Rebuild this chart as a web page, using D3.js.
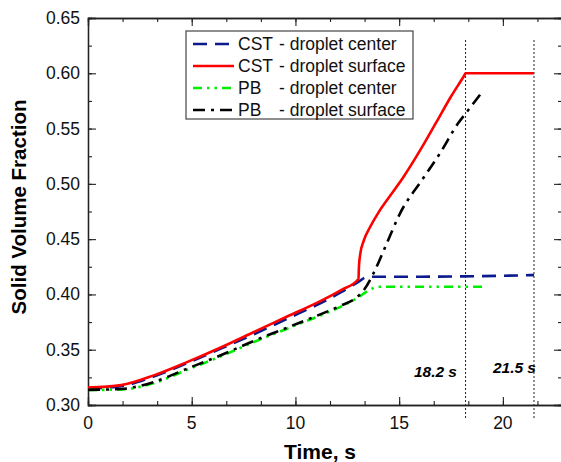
<!DOCTYPE html>
<html>
<head>
<meta charset="utf-8">
<script src="https://cdn.jsdelivr.net/npm/d3@7"></script>
<style>
  body { margin: 0; background: #fff; }
  svg { font-family: "Liberation Sans", Arial, sans-serif; }
</style>
</head>
<body>
<svg id="chart" width="561" height="462"></svg>
<script>
 // series data, [time s, solid volume fraction]
 let cstCenter = [[0,0.315],[1.6,0.317],[3.2,0.326],[4.8,0.338],[6.4,0.351],[8,0.364],[9.6,0.378],
                  [11.2,0.392],[12.2,0.402],[13.0,0.411],[13.5,0.416],[15,0.416],[18,0.4163],[21.5,0.4175]];
 let cstSurface = [[0,0.3157],[1.6,0.318],[3.2,0.327],[4.8,0.339],[6.4,0.352],[8,0.366],[9.6,0.380],
                   [11.2,0.394],[12.2,0.404],[13.04,0.414],[13.06,0.425],[13.12,0.436],[13.3,0.449],
                   [13.6,0.461],[14.0,0.474],[14.4,0.485],[15.2,0.506],[16.0,0.530],[16.8,0.556],
                   [17.5,0.579],[18.13,0.5978],[18.2,0.600],[21.5,0.600]];
 let pbCenter = [[0,0.3135],[1.6,0.314],[3.2,0.320],[4.8,0.332],[6.4,0.344],[8,0.357],[9.6,0.369],
                 [11.2,0.381],[12.2,0.389],[13.0,0.397],[13.4,0.402],[14.0,0.407],[16,0.407],[19,0.407]];
 let pbSurface = [[0,0.3137],[1.6,0.3145],[3.2,0.321],[4.8,0.333],[6.4,0.345],[8,0.358],[9.6,0.370],
                  [11.2,0.382],[12.2,0.390],[13.0,0.398],[13.3,0.404],[13.76,0.419],[14.4,0.446],
                  [15.05,0.4736],[16.1,0.5035],[16.98,0.528],[17.85,0.555],[18.26,0.565],[19.0,0.583]];

 let seriesModels = ["CST", "CST", "PB", "PB"];
 let seriesNames = ["- droplet center", "- droplet surface", "- droplet center", "- droplet surface"];
 let markerTimes = [18.2, 21.5];
 let markerLabels = ["18.2 s", "21.5 s"];
 let xTicks = [0, 5, 10, 15, 20];
 let yTicks = [0.30, 0.35, 0.40, 0.45, 0.50, 0.55, 0.60, 0.65];

 let svg = d3.select("svg#chart");
 let plotLeft = 88, plotRight = 562, plotTop = 18, plotBottom = 405;

 const xScale = d3.scaleLinear().domain([0, 22.85]).range([plotLeft, plotRight]);
 const yScale = d3.scaleLinear().domain([0.30, 0.65]).range([plotBottom, plotTop]);

 let styles = [
     {data: cstCenter, color: "#0b1a8c", dash: "14,8", width: 2.6},
     {data: cstSurface, color: "#ff0000", dash: null, width: 2.6},
     {data: pbCenter, color: "#00ee00", dash: "9,5,2.5,5,2.5,5", width: 2.6},
     {data: pbSurface, color: "#000000", dash: "12,6,3,6", width: 2.6}
 ];

 let axes = svg.append("g").attr("id", "axes");

 let minorX = d3.range(0, 22.85, 5/3);
 let minorY = d3.range(0.30, 0.651, 0.025);

 // inward ticks on all four sides
 axes.append("g").attr("transform", `translate(0,${plotBottom})`)
     .call(d3.axisTop(xScale).tickValues(minorX).tickSize(4).tickFormat(""));
 axes.append("g").attr("transform", `translate(0,${plotBottom})`)
     .call(d3.axisTop(xScale).tickValues(xTicks).tickSize(8).tickFormat(""));
 axes.append("g").attr("transform", `translate(0,${plotTop})`)
     .call(d3.axisBottom(xScale).tickValues(minorX).tickSize(4).tickFormat(""));
 axes.append("g").attr("transform", `translate(0,${plotTop})`)
     .call(d3.axisBottom(xScale).tickValues(xTicks).tickSize(8).tickFormat(""));
 axes.append("g").attr("transform", `translate(${plotLeft},0)`)
     .call(d3.axisRight(yScale).tickValues(minorY).tickSize(4).tickFormat(""));
 axes.append("g").attr("transform", `translate(${plotLeft},0)`)
     .call(d3.axisRight(yScale).tickValues(yTicks).tickSize(8).tickFormat(""));
 axes.append("g").attr("transform", `translate(${plotRight},0)`)
     .call(d3.axisLeft(yScale).tickValues(minorY).tickSize(4).tickFormat(""));
 axes.append("g").attr("transform", `translate(${plotRight},0)`)
     .call(d3.axisLeft(yScale).tickValues(yTicks).tickSize(8).tickFormat(""));

 axes.selectAll("path.domain").attr("stroke", "#222").attr("stroke-width", 1.3);
 axes.selectAll(".tick line").attr("stroke", "#222").attr("stroke-width", 1.1);

 // tick labels
 axes.selectAll("text.xlab").data(xTicks).join("text")
     .attr("class", "xlab")
     .attr("x", d => xScale(d)).attr("y", 429)
     .attr("text-anchor", "middle").attr("font-size", 17.5).attr("fill", "#111")
     .text(d => d);
 axes.selectAll("text.ylab").data(yTicks).join("text")
     .attr("class", "ylab")
     .attr("x", 80).attr("y", d => yScale(d) + 6)
     .attr("text-anchor", "end").attr("font-size", 17.5).attr("fill", "#111")
     .text(d => d3.format(".2f")(d));

 svg.append("text").attr("x", 320).attr("y", 459)
     .attr("text-anchor", "middle").attr("font-size", 21).attr("font-weight", "bold")
     .text("Time, s");
 svg.append("text").attr("transform", "translate(26,207) rotate(-90)")
     .attr("text-anchor", "middle").attr("font-size", 20.5).attr("font-weight", "bold")
     .text("Solid Volume Fraction");

 // dotted markers
 svg.selectAll("line.marker").data(markerTimes).join("line")
     .attr("class", "marker")
     .attr("x1", d => xScale(d)).attr("x2", d => xScale(d))
     .attr("y1", 40).attr("y2", 419)
     .attr("stroke", "#222").attr("stroke-width", 1).attr("stroke-dasharray", "2,2");
 svg.selectAll("text.marker").data(markerLabels).join("text")
     .attr("class", "marker")
     .attr("x", (d, i) => i == 0 ? 457 : 536)
     .attr("y", (d, i) => i == 0 ? 377 : 373)
     .attr("text-anchor", "end").attr("font-size", 15.5)
     .attr("font-weight", "bold").attr("font-style", "italic")
     .text(d => d);

 // curves
 let line = d3.line()
     .x(d => xScale(d[0]))
     .y(d => yScale(d[1]))
     .curve(d3.curveMonotoneX);

 let curves = svg.append("g").attr("id", "curves");
 styles.forEach(s => {
     curves.append("path")
         .attr("d", line(s.data))
         .attr("fill", "none")
         .attr("stroke", s.color)
         .attr("stroke-width", s.width)
         .attr("stroke-dasharray", s.dash);
 });

 // legend
 let legend = svg.append("g").attr("id", "legend");
 legend.append("rect")
     .attr("x", 186).attr("y", 31).attr("width", 227).attr("height", 88)
     .attr("fill", "#fff").attr("stroke", "#444").attr("stroke-width", 1.2);
 seriesNames.forEach((name, i) => {
     let y = 44 + i * 22;
     legend.append("line")
         .attr("x1", 193).attr("x2", 234).attr("y1", y).attr("y2", y)
         .attr("stroke", styles[i].color).attr("stroke-width", 2.6)
         .attr("stroke-dasharray", styles[i].dash);
     legend.append("text")
         .attr("x", 238).attr("y", y + 6)
         .attr("font-size", 17.5).attr("fill", "#111")
         .text(seriesModels[i]);
     legend.append("text")
         .attr("x", 279).attr("y", y + 6)
         .attr("font-size", 17.5).attr("fill", "#111")
         .text(name);
 });
</script>
</body>
</html>
